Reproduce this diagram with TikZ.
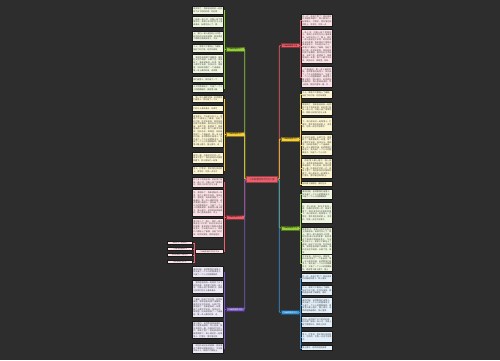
\documentclass[tikz,border=0pt]{standalone}
\usepackage{fontspec}
\usepackage{xstring}
\newfontfamily\cjk{Noto Sans CJK SC}
\XeTeXlinebreaklocale "zh"
\XeTeXlinebreakskip=0pt plus 0.3pt

\definecolor{bgcol}{HTML}{2D2D2D}
\definecolor{grnB}{HTML}{95CF3C}
\definecolor{grnL}{HTML}{EFF6DF}
\definecolor{ylwB}{HTML}{F6CF3A}
\definecolor{ylwL}{HTML}{FCF5D2}
\definecolor{redB}{HTML}{EF5F6B}
\definecolor{redL}{HTML}{FCE2E6}
\definecolor{pplB}{HTML}{7A5BC0}
\definecolor{pplL}{HTML}{EDE9F6}
\definecolor{bluB}{HTML}{3A94D6}
\definecolor{bluL}{HTML}{E3F0FA}

\newcommand\pool{寒假到了，我和爸爸妈妈一起回到了乡下的奶奶家。奶奶家门前有一条小河，河面上结了厚厚的冰，我和小伙伴们在冰上滑来滑去，玩得可开心了。晚上，我们一家人围坐在火炉旁，听奶奶讲过去的故事，我觉得这个寒假过得真有意义。今天是大年三十，家家户户都贴上了春联，挂起了红灯笼。吃完年夜饭，我和爸爸到楼下放鞭炮，烟花在天空中绽放，五颜六色，美丽极了。我希望新的一年里，每个人都平平安安，快快乐乐。寒假里，妈妈给我报了一个画画班。第一次上课的时候，老师教我们画雪人。我先画了一个大大的圆做身子，又画了一个小小的圆做脑袋，再给雪人戴上帽子，围上围巾。老师表扬我画得好，我心里美滋滋的。早上起来，我拉开窗帘一看，外面白茫茫的一片，原来下雪了！我赶紧穿好衣服跑到楼下，和小朋友们一起堆雪人、打雪仗。雪花落在我的脸上，凉凉的，可我一点也不觉得冷。}
\newcommand\essay[2]{\StrMid{\pool}{#1}{\the\numexpr#1+#2-1\relax}}

\begin{document}
\begin{tikzpicture}[x=1pt,y=-1pt,
    leaf/.style={draw=black!90,line width=0.9pt,inner sep=1pt,minimum width=31pt,text width=29pt,
                 align=justify,anchor=north west,font=\cjk\fontsize{2}{2.55}\selectfont,text=black!75},
    gleaf/.style={leaf,fill=grnL},
    yleaf/.style={leaf,fill=ylwL},
    rleaf/.style={leaf,fill=redL},
    pleaf/.style={leaf,fill=pplL},
    bleaf/.style={leaf,fill=bluL},
    tag/.style={draw=black!90,line width=0.9pt,inner sep=0.3pt,fill=redL,anchor=north west,text=black!75},
    branch/.style={line width=0.6pt,inner sep=0.3pt,minimum width=18pt,minimum height=4pt,
                   font=\cjk\fontsize{1.9}{2}\selectfont},
    link/.style={line width=0.8pt,rounded corners=1pt},
    twig/.style={line width=0.6pt}
]
\fill[bgcol] (0,0) rectangle (500,360);
\useasboundingbox (0,0) rectangle (500,360);

% Root
\node[fill=redB,draw=redB!65!black,line width=0.6pt,minimum width=31pt,minimum height=6pt,inner sep=0.3pt,
      font=\cjk\fontsize{2.3}{2.5}\selectfont,text=black!80] (root) at (262,179.5) {二年级寒假作文范文八篇};

% Branches on the left
\node[branch,fill=grnB,draw=grnB!55!black] (gb) at (235,49) {二年级寒假作文一};
\node[branch,fill=ylwB,draw=ylwB!55!black] (yb) at (235,134) {二年级寒假作文二};
\node[branch,fill=redB,draw=redB!55!black] (rb) at (235,217) {二年级寒假作文三};
\node[branch,fill=pplB,draw=pplB!55!black,text=white] (pb) at (235,309.5) {二年级寒假作文四};

% Branches on the right
\node[branch,fill=redB,draw=redB!55!black] (rb2) at (290,45.5) {二年级寒假作文五};
\node[branch,fill=ylwB,draw=ylwB!55!black] (yb2) at (290,139) {二年级寒假作文六};
\node[branch,fill=grnB,draw=grnB!55!black] (gb2) at (290,228) {二年级寒假作文七};
\node[branch,fill=bluB,draw=bluB!55!black,text=white] (bb2) at (290,312.5) {二年级寒假作文八};

% Leaves, green (left)
\node[gleaf,minimum height=8pt] (g1) at (192,6) {\essay{1}{26}};
\node[gleaf,minimum height=11pt] (g2) at (192,16) {\essay{27}{40}};
\node[gleaf,minimum height=10pt] (g3) at (192,31) {\essay{67}{40}};
\node[gleaf,minimum height=8pt] (g4) at (192,44) {\essay{110}{26}};
\node[gleaf,minimum height=19pt] (g5) at (192,54) {\essay{136}{82}};
\node[gleaf,minimum height=6pt] (g6) at (192,76) {\essay{218}{12}};
\node[gleaf,minimum height=8pt] (g7) at (192,84) {\essay{230}{26}};

% Leaves, yellow (left)
\node[yleaf,minimum height=7pt] (y1) at (192,95) {\essay{205}{26}};
\node[yleaf,minimum height=6pt] (y2) at (192,105) {\essay{50}{12}};
\node[yleaf,minimum height=34pt] (y3) at (192,113) {\essay{100}{166}};
\node[yleaf,minimum height=11pt] (y4) at (192,152) {\essay{290}{40}};
\node[yleaf,minimum height=8pt] (y5) at (192,166) {\essay{330}{26}};

% Leaves, red (left)
\node[rleaf,minimum height=10pt] (r1) at (192,177) {\essay{15}{40}};
\node[rleaf,minimum height=27pt] (r2) at (192,189) {\essay{160}{124}};
\node[rleaf,minimum height=19pt] (r3) at (192,218) {\essay{60}{82}};
\node[tag,minimum width=28pt,minimum height=4pt,font=\cjk\fontsize{1.8}{2}\selectfont] (r4) at (195,249) {二年级寒假作文范文开头};
\node[tag,minimum width=25pt,minimum height=3pt,font=\cjk\fontsize{1.6}{1.8}\selectfont] (s1) at (167,241) {寒假作文二年级日记};
\node[tag,minimum width=25pt,minimum height=3pt,font=\cjk\fontsize{1.6}{1.8}\selectfont] (s2) at (167,247) {二年级寒假趣事作文};
\node[tag,minimum width=25pt,minimum height=3pt,font=\cjk\fontsize{1.6}{1.8}\selectfont] (s3) at (167,253) {快乐的寒假二年级作文};
\node[tag,minimum width=25pt,minimum height=3pt,font=\cjk\fontsize{1.6}{1.8}\selectfont] (s4) at (167,260) {我的寒假生活作文};

% Leaves, purple (left)
\node[pleaf,minimum height=11pt] (p1) at (192,266) {\essay{210}{40}};
\node[pleaf,minimum height=13pt] (p2) at (192,280) {\essay{5}{54}};
\node[pleaf,minimum height=21pt] (p3) at (192,296) {\essay{120}{96}};
\node[pleaf,minimum height=17pt] (p4) at (192,321) {\essay{260}{82}};
\node[pleaf,minimum height=10pt] (p5) at (192,343) {\essay{80}{40}};

% Leaves, red (right)
\node[rleaf,minimum height=12pt] (q1) at (301,14) {\essay{300}{54}};
\node[rleaf,minimum height=34pt] (q2) at (301,29) {\essay{30}{166}};
\node[rleaf,minimum height=21pt] (q3) at (301,66) {\essay{200}{96}};

% Leaves, yellow (right)
\node[yleaf,minimum height=8pt] (z1) at (301,90) {\essay{110}{26}};
\node[yleaf,minimum height=13pt] (z2) at (301,102) {\essay{1}{54}};
\node[yleaf,minimum height=14pt] (z3) at (301,117) {\essay{320}{54}};
\node[yleaf,minimum height=21pt] (z4) at (301,134) {\essay{150}{96}};
\node[yleaf,minimum height=20pt] (z5) at (301,158) {\essay{250}{96}};
\node[yleaf,minimum height=5pt] (z6) at (301,181) {\essay{140}{12}};

% Leaves, green (right)
\node[gleaf,minimum height=10pt] (h1) at (301,189) {\essay{210}{40}};
\node[gleaf,minimum height=21pt] (h2) at (301,202) {\essay{280}{96}};
\node[gleaf,minimum height=25pt] (h3) at (301,227) {\essay{40}{124}};
\node[gleaf,minimum height=17pt] (h4) at (301,254) {\essay{180}{82}};

% Leaves, blue (right)
\node[bleaf,minimum height=9pt] (b1) at (301,273) {\essay{300}{26}};
\node[bleaf,minimum height=10pt] (b2) at (301,285) {\essay{110}{40}};
\node[bleaf,minimum height=16pt] (b3) at (301,297) {\essay{210}{68}};
\node[bleaf,minimum height=11pt] (b4) at (301,316) {\essay{10}{40}};
\node[bleaf,minimum height=11pt] (b5) at (301,331) {\essay{330}{40}};
\node[bleaf,minimum height=5pt] (b6) at (301,345) {\essay{260}{12}};

% Root to branches
\draw[link,grnB] (root.west) -- ++(-1.5,0) |- (gb.east);
\draw[link,ylwB] (root.west) -- ++(-1.5,0) |- (yb.east);
\draw[link,redB] (root.west) -- ++(-1.5,0) |- (rb.east);
\draw[link,pplB] (root.west) -- ++(-1.5,0) |- (pb.east);
\draw[link,redB] (root.east) -- ++(1.5,0) |- (rb2.west);
\draw[link,ylwB] (root.east) -- ++(1.5,0) |- (yb2.west);
\draw[link,grnB] (root.east) -- ++(1.5,0) |- (gb2.west);
\draw[link,bluB] (root.east) -- ++(1.5,0) |- (bb2.west);

% Branches to leaves
\draw[twig,grnB] (gb.west) -- ++(-1.2,0) |- (g1.east) (gb.west) -- ++(-1.2,0) |- (g2.east) (gb.west) -- ++(-1.2,0) |- (g3.east) (gb.west) -- ++(-1.2,0) |- (g4.east) (gb.west) -- ++(-1.2,0) |- (g5.east) (gb.west) -- ++(-1.2,0) |- (g6.east) (gb.west) -- ++(-1.2,0) |- (g7.east);
\draw[twig,ylwB] (yb.west) -- ++(-1.2,0) |- (y1.east) (yb.west) -- ++(-1.2,0) |- (y2.east) (yb.west) -- ++(-1.2,0) |- (y3.east) (yb.west) -- ++(-1.2,0) |- (y4.east) (yb.west) -- ++(-1.2,0) |- (y5.east);
\draw[twig,redB] (rb.west) -- ++(-1.2,0) |- (r1.east) (rb.west) -- ++(-1.2,0) |- (r2.east) (rb.west) -- ++(-1.2,0) |- (r3.east) (rb.west) -- ++(-1.2,0) |- (r4.east);
\draw[twig,redB] (r4.west) -- ++(-1,0) |- (s1.east) (r4.west) -- ++(-1,0) |- (s2.east) (r4.west) -- ++(-1,0) |- (s3.east) (r4.west) -- ++(-1,0) |- (s4.east);
\draw[twig,pplB] (pb.west) -- ++(-1.2,0) |- (p1.east) (pb.west) -- ++(-1.2,0) |- (p2.east) (pb.west) -- ++(-1.2,0) |- (p3.east) (pb.west) -- ++(-1.2,0) |- (p4.east) (pb.west) -- ++(-1.2,0) |- (p5.east);
\draw[twig,redB] (rb2.east) -- ++(1.2,0) |- (q1.west) (rb2.east) -- ++(1.2,0) |- (q2.west) (rb2.east) -- ++(1.2,0) |- (q3.west);
\draw[twig,ylwB] (yb2.east) -- ++(1.2,0) |- (z1.west) (yb2.east) -- ++(1.2,0) |- (z2.west) (yb2.east) -- ++(1.2,0) |- (z3.west) (yb2.east) -- ++(1.2,0) |- (z4.west) (yb2.east) -- ++(1.2,0) |- (z5.west) (yb2.east) -- ++(1.2,0) |- (z6.west);
\draw[twig,grnB] (gb2.east) -- ++(1.2,0) |- (h1.west) (gb2.east) -- ++(1.2,0) |- (h2.west) (gb2.east) -- ++(1.2,0) |- (h3.west) (gb2.east) -- ++(1.2,0) |- (h4.west);
\draw[twig,bluB] (bb2.east) -- ++(1.2,0) |- (b1.west) (bb2.east) -- ++(1.2,0) |- (b2.west) (bb2.east) -- ++(1.2,0) |- (b3.west) (bb2.east) -- ++(1.2,0) |- (b4.west) (bb2.east) -- ++(1.2,0) |- (b5.west) (bb2.east) -- ++(1.2,0) |- (b6.west);

\end{tikzpicture}
\end{document}
